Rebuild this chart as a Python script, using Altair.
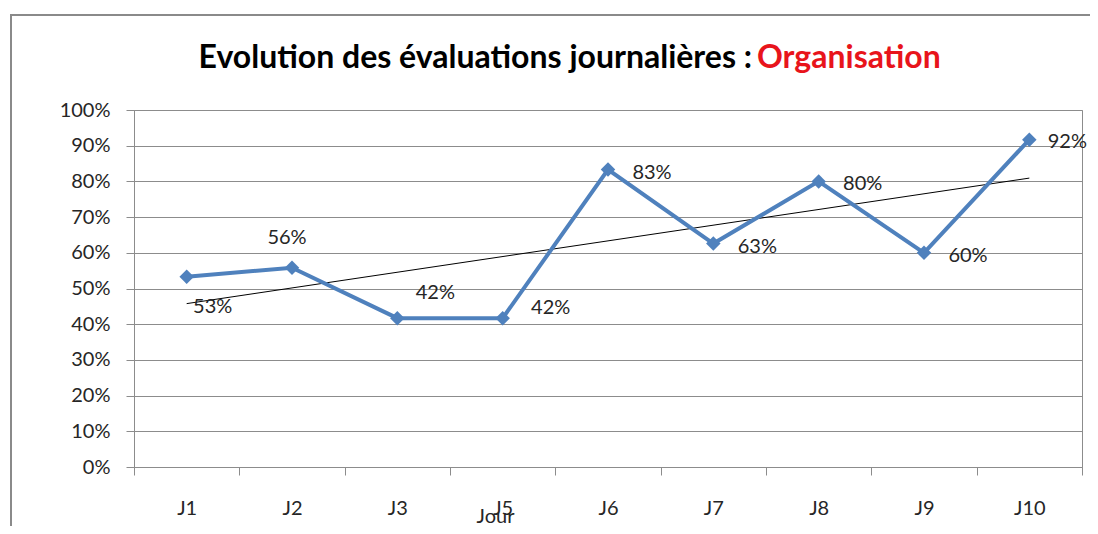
import json
import altair as alt
import pandas as pd

# ---- data ----
jours = ["J1", "J2", "J3", "J5", "J6", "J7", "J8", "J9", "J10"]
pct = [0.533, 0.558, 0.417, 0.417, 0.833, 0.626, 0.80, 0.60, 0.917]
y_ticks = [0, 0.1, 0.2, 0.3, 0.4, 0.5, 0.6, 0.7, 0.8, 0.9, 1.0]
title_main = "Evolution des évaluations journalières : "
title_red = "Organisation"
x_title = "Jour"

df = pd.DataFrame({"jour": jours, "idx": list(range(len(jours))), "pct": pct})

W, H = 948, 357
band = W / len(jours)
FONT = "Lato"
GRID = "#8c8c8c"
TXT = "#262626"
BLUE = "#4F81BD"

arr = json.dumps(jours)
x_enc = alt.X(
    "idx:Q",
    scale=alt.Scale(domain=[-0.5, len(jours) - 0.5], nice=False, zero=False),
    axis=alt.Axis(
        values=[i - 0.5 for i in range(len(jours) + 1)],
        labelExpr=f"datum.value < {len(jours) - 1} ? {arr}[round(datum.value + 0.5)] : ''",
        labelOffset=band / 2,
        labelFlush=False,
        labelOverlap=False,
        labelBaseline="middle",
        labelPadding=33,
        tickSize=8,
        grid=False,
        title=x_title,
        titleX=361,
        titleY=49,
        titleBaseline="middle",
        titleFontWeight="normal",
    ),
)
y_enc = alt.Y(
    "pct:Q",
    scale=alt.Scale(domain=[0, 1], nice=False),
    axis=alt.Axis(
        values=y_ticks,
        format=".0%",
        tickSize=8,
        labelPadding=16,
        grid=True,
        title=None,
    ),
)

base = alt.Chart(df)

trend = base.transform_regression("idx", "pct").mark_line(
    color="black", strokeWidth=1
).encode(x=x_enc, y=y_enc)

line = base.mark_line(color=BLUE, strokeWidth=4).encode(x=x_enc, y=y_enc)
pts = base.mark_point(shape="diamond", filled=True, size=210, color=BLUE, opacity=1).encode(
    x=x_enc, y=y_enc
)

# data labels, placed like the original
offsets = {"J1": (26, 30), "J2": (-5, -30), "J3": (38, -25), "J5": (48, -10), "J10": (38, 2)}
label_layers = []
special = list(offsets.keys())
for j, (dx, dy) in offsets.items():
    label_layers.append(
        base.transform_filter(alt.datum.jour == j)
        .mark_text(font=FONT, fontSize=20, color=TXT, dx=dx, dy=dy, align="center", baseline="middle")
        .encode(x=x_enc, y=y_enc, text=alt.Text("pct:Q", format=".0%"))
    )
label_layers.append(
    base.transform_filter(~alt.FieldOneOfPredicate(field="jour", oneOf=special))
    .mark_text(font=FONT, fontSize=20, color=TXT, dx=44, dy=3, align="center", baseline="middle")
    .encode(x=x_enc, y=y_enc, text=alt.Text("pct:Q", format=".0%"))
)

one = alt.Data(values=[{"k": 1}])
t1 = alt.Chart(one).mark_text(
    font=FONT, fontSize=32, fontWeight="bold", color="black", align="right", baseline="alphabetic"
).encode(x=alt.value(618), y=alt.value(-42), text=alt.value(title_main))
t2 = alt.Chart(one).mark_text(
    font=FONT, fontSize=32, fontWeight="bold", color="#E8141B", align="left", baseline="alphabetic"
).encode(x=alt.value(623), y=alt.value(-42), text=alt.value(title_red))

frame = alt.Chart(one).mark_rect(fill=None, stroke="#8a8a8a", strokeWidth=2).encode(
    x=alt.value(-123), y=alt.value(-95), x2=alt.value(1000), y2=alt.value(600)
)

chart = (
    alt.layer(frame, trend, line, pts, *label_layers, t1, t2)
    .properties(
        width=W,
        height=H,
        padding={"left": 126, "top": 102, "right": 8, "bottom": 59},
        autosize=alt.AutoSizeParams(type="none"),
    )
    .configure_view(stroke=GRID, strokeWidth=1)
    .configure_axis(
        labelFont=FONT,
        labelFontSize=20,
        labelColor=TXT,
        titleFont=FONT,
        titleFontSize=20,
        titleColor=TXT,
        domainColor=GRID,
        tickColor=GRID,
        gridColor=GRID,
        gridOpacity=1,
        domainWidth=1,
    )
)

chart.save("out.html", embed_options={"renderer": "svg", "actions": False})
